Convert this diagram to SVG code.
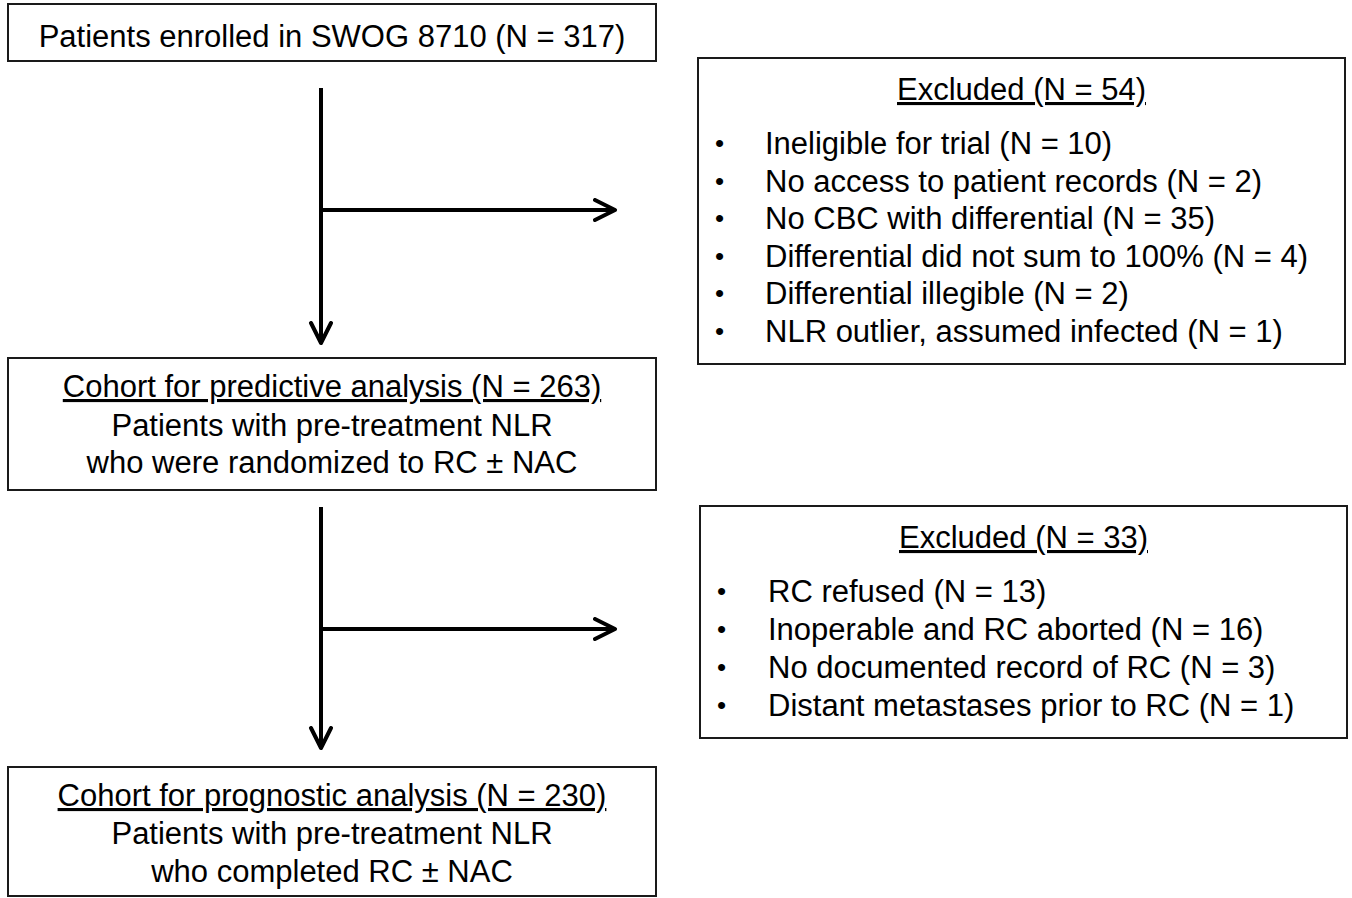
<svg xmlns="http://www.w3.org/2000/svg" width="1352" height="898" viewBox="0 0 1352 898">
<style>
.box{fill:#fff;stroke:#1a1a1a;stroke-width:2}
text{font-family:"Liberation Sans",Arial,sans-serif;font-size:31px;fill:#000}
text.b{font-size:26px}
.c{text-anchor:middle}
.u{text-decoration:underline}
.con{stroke:#000;stroke-width:4;fill:none}
</style>
<defs>
<marker id="arr" markerUnits="userSpaceOnUse" markerWidth="26" markerHeight="26" viewBox="-2 -2 26 26" refX="20" refY="10" orient="auto">
<path d="M0,0 L20,10 L0,20" fill="none" stroke="#000" stroke-width="4" stroke-linecap="round" stroke-linejoin="round"/>
</marker>
</defs>
<rect width="1352" height="898" fill="#fff"/>
<g id="connectors">
<line class="con" x1="321" y1="88" x2="321" y2="343" marker-end="url(#arr)"/>
<line class="con" x1="321" y1="210" x2="615" y2="210" marker-end="url(#arr)"/>
<line class="con" x1="321" y1="507" x2="321" y2="748" marker-end="url(#arr)"/>
<line class="con" x1="321" y1="629" x2="615" y2="629" marker-end="url(#arr)"/>
</g>
<g id="enrolled">
<rect class="box" x="8" y="4" width="648" height="57"/>
<text class="c" x="332" y="47">Patients enrolled in SWOG 8710 (N = 317)</text>
</g>
<g id="excluded1">
<rect class="box" x="698" y="58" width="647" height="306"/>
<text class="c u" x="1021.5" y="100">Excluded (N = 54)</text>
<text class="b" x="715" y="152">•</text><text x="765" y="154">Ineligible for trial (N = 10)</text>
<text class="b" x="715" y="189.5">•</text><text x="765" y="191.5">No access to patient records (N = 2)</text>
<text class="b" x="715" y="227">•</text><text x="765" y="229">No CBC with differential (N = 35)</text>
<text class="b" x="715" y="264.5">•</text><text x="765" y="266.5">Differential did not sum to 100% (N = 4)</text>
<text class="b" x="715" y="302">•</text><text x="765" y="304">Differential illegible (N = 2)</text>
<text class="b" x="715" y="339.5">•</text><text x="765" y="341.5">NLR outlier, assumed infected (N = 1)</text>
</g>
<g id="predictive">
<rect class="box" x="8" y="358" width="648" height="132"/>
<text class="c u" x="332" y="397">Cohort for predictive analysis (N = 263)</text>
<text class="c" x="332" y="436">Patients with pre-treatment NLR</text>
<text class="c" x="332" y="473">who were randomized to RC ± NAC</text>
</g>
<g id="excluded2">
<rect class="box" x="700" y="506" width="647" height="232"/>
<text class="c u" x="1023.5" y="548">Excluded (N = 33)</text>
<text class="b" x="717" y="600">•</text><text x="768" y="602">RC refused (N = 13)</text>
<text class="b" x="717" y="638">•</text><text x="768" y="640">Inoperable and RC aborted (N = 16)</text>
<text class="b" x="717" y="676">•</text><text x="768" y="678">No documented record of RC (N = 3)</text>
<text class="b" x="717" y="714">•</text><text x="768" y="716">Distant metastases prior to RC (N = 1)</text>
</g>
<g id="prognostic">
<rect class="box" x="8" y="767" width="648" height="129"/>
<text class="c u" x="332" y="806">Cohort for prognostic analysis (N = 230)</text>
<text class="c" x="332" y="844">Patients with pre-treatment NLR</text>
<text class="c" x="332" y="882">who completed RC ± NAC</text>
</g>
</svg>
